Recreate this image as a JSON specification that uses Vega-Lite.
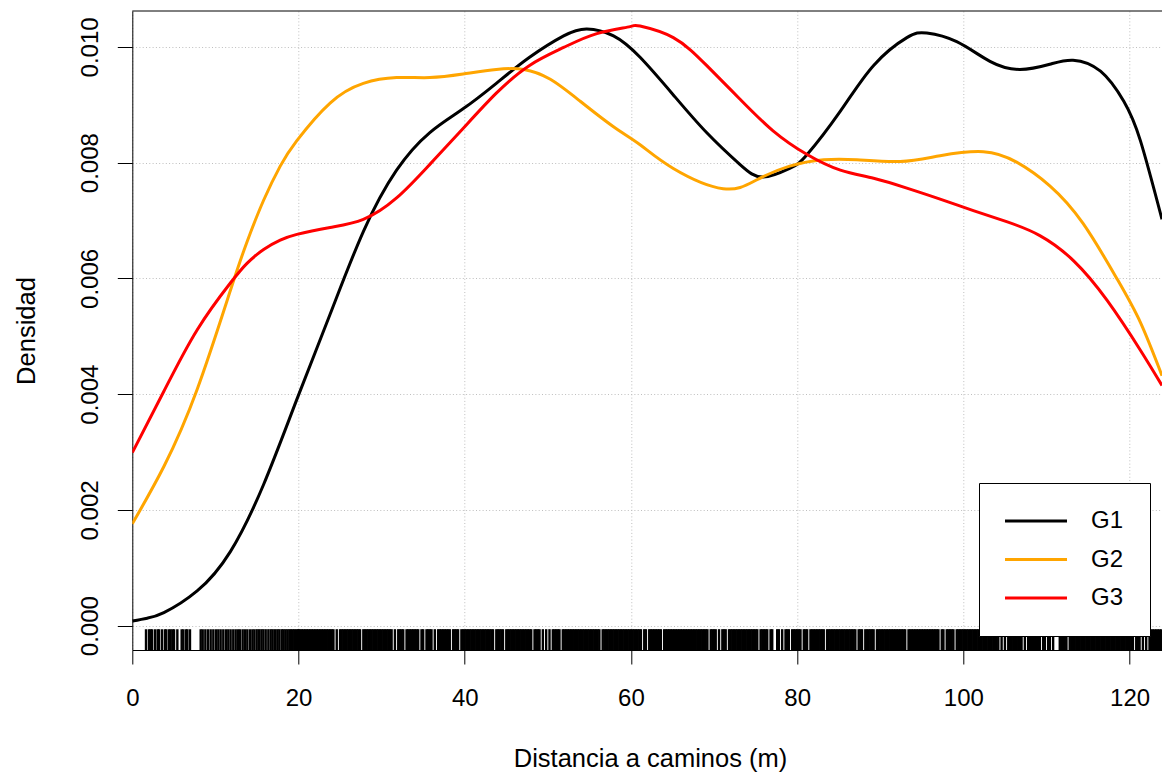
{
  "$schema": "https://vega.github.io/schema/vega-lite/v6.json",
  "width": 1029.7,
  "height": 639,
  "autosize": {"type": "none"},
  "padding": {"left": 132.3, "top": 11, "right": 0, "bottom": 122},
  "background": "white",
  "datasets": {
    "rug": [1.65, 2.01, 2.21, 2.37, 2.73, 3.05, 3.21, 3.57, 3.93, 4.09, 4.42, 4.62, 4.86, 5.02, 5.42, 5.94, 6.14, 6.46, 6.62, 6.94, 8.23, 8.47, 8.79, 9.11, 9.43, 9.75, 10.07, 10.35, 10.63, 10.95, 11.27, 11.55, 11.83, 12.15, 12.44, 12.72, 12.96, 13.28, 13.56, 13.84, 14.16, 14.45, 14.69, 14.97, 15.25, 15.53, 15.77, 16.05, 16.37, 16.65, 16.89, 17.17, 17.45, 17.69, 17.97, 18.17, 18.41, 18.65, 18.89, 19.09, 19.29, 19.49, 19.69, 19.93,
      20.0, 20.2, 20.4, 20.6, 20.8, 21.0, 21.2, 21.4, 21.6, 21.8, 22.0, 22.2, 22.4, 22.6, 22.8, 23.0, 23.2, 23.4, 23.6, 23.8, 24.0, 24.2, 24.6, 25.0, 25.2, 25.4, 25.6, 25.8, 26.0, 26.2, 26.4, 26.6, 26.8, 27.0, 27.2, 27.4, 27.8, 28.0, 28.2, 28.4, 28.6, 28.8, 29.0, 29.2, 29.4, 29.6, 29.8,
      30.0, 30.2, 30.4, 30.6, 30.8, 31.0, 31.2, 31.6, 32.0, 32.2, 32.4, 32.6, 33.0, 33.2, 33.4, 33.6, 33.8, 34.0, 34.2, 34.4, 34.8, 35.0, 35.4, 35.6, 35.8, 36.0, 36.4, 36.8, 37.0, 37.2, 37.4, 37.6, 37.8, 38.0, 38.2, 38.6, 38.8, 39.0, 39.2, 39.6, 39.8,
      40.0, 40.2, 40.4, 40.6, 40.8, 41.0, 41.2, 41.4, 41.6, 41.8, 42.0, 42.2, 42.4, 42.6, 42.8, 43.0, 43.2, 43.4, 43.8, 44.0, 44.2, 44.4, 44.6, 45.0, 45.2, 45.4, 45.6, 45.8, 46.0, 46.2, 46.4, 46.6, 46.8, 47.0, 47.2, 47.4, 47.6, 47.8, 48.0, 48.4, 48.6, 48.8, 49.0, 49.4, 49.8,
      50.2, 50.6, 50.8, 51.0, 51.2, 51.4, 51.8, 52.0, 52.2, 52.4, 52.6, 52.8, 53.0, 53.2, 53.4, 53.6, 53.8, 54.0, 54.2, 54.4, 54.6, 54.8, 55.0, 55.2, 55.4, 55.6, 55.8, 56.0, 56.2, 56.6, 56.8, 57.0, 57.2, 57.4, 57.6, 57.8, 58.0, 58.2, 58.4, 58.6, 58.8, 59.0, 59.2, 59.4, 59.6, 59.8,
      60.0, 60.2, 60.4, 60.6, 60.8, 61.0, 61.2, 61.6, 61.8, 62.2, 62.4, 62.6, 62.8, 63.0, 63.2, 63.4, 63.6, 64.0, 64.2, 64.4, 64.6, 64.8, 65.0, 65.2, 65.4, 65.6, 65.8, 66.0, 66.2, 66.4, 66.6, 66.8, 67.0, 67.2, 67.4, 67.6, 67.8, 68.0, 68.2, 68.4, 68.6, 68.8, 69.0, 69.2, 69.6, 69.8,
      70.0, 70.2, 70.6, 71.0, 71.2, 71.4, 71.8, 72.0, 72.2, 72.4, 72.6, 72.8, 73.0, 73.2, 73.4, 73.6, 73.8, 74.0, 74.2, 74.4, 74.6, 74.8, 75.0, 75.2, 75.6, 75.8, 76.0, 76.2, 76.4, 76.8, 77.0, 77.6, 77.8, 78.2, 78.6, 78.8, 79.0, 79.4, 79.6, 79.8,
      80.0, 80.2, 80.4, 80.8, 81.0, 81.2, 81.6, 81.8, 82.0, 82.2, 82.4, 82.6, 82.8, 83.0, 83.2, 83.6, 83.8, 84.0, 84.2, 84.4, 84.6, 84.8, 85.0, 85.2, 85.4, 85.6, 85.8, 86.0, 86.2, 86.4, 86.6, 86.8, 87.0, 87.4, 87.6, 87.8, 88.2, 88.4, 88.6, 88.8, 89.0, 89.2, 89.6, 89.8,
      90.0, 90.2, 90.4, 90.6, 90.8, 91.0, 91.2, 91.4, 91.6, 91.8, 92.0, 92.2, 92.4, 92.6, 92.8, 93.0, 93.4, 93.6, 93.8, 94.0, 94.2, 94.4, 94.6, 94.8, 95.0, 95.2, 95.4, 95.6, 95.8, 96.0, 96.2, 96.4, 96.6, 96.8, 97.0, 97.4, 97.6, 98.0, 98.2, 98.4, 98.6, 98.8, 99.2, 99.4, 99.6, 99.8,
      100.0, 100.2, 100.4, 100.6, 100.8, 101.0, 101.2, 101.4, 101.6, 101.8, 102.0, 102.2, 102.4, 102.6, 102.8, 103.0, 103.2, 103.4, 103.6, 103.8, 104.0, 104.2, 104.6, 105.0, 105.4, 105.6, 105.8, 106.0, 106.2, 106.4, 106.6, 106.8, 107.0, 107.4, 107.8, 108.0, 108.2, 108.4, 108.6, 108.8, 109.0, 109.2, 109.6, 109.8,
      110.2, 110.4, 110.8, 111.6, 111.8, 112.0, 112.2, 112.4, 112.8, 113.0, 113.2, 113.4, 113.6, 113.8, 114.0, 114.2, 114.4, 114.6, 114.8, 115.0, 115.2, 115.4, 115.6, 115.8, 116.0, 116.2, 116.4, 116.6, 116.8, 117.0, 117.2, 117.4, 117.6, 117.8, 118.0, 118.2, 118.4, 118.6, 118.8, 119.0, 119.2, 119.4, 119.6, 119.8,
      120.0, 120.2, 120.4, 120.8, 121.0, 121.2, 121.6, 122.0, 122.4, 122.6, 122.8, 123.0, 123.2, 123.4, 123.6, 123.8],
    "dens": [
      {"x": 0, "d": 0.00008, "g": "G1"}, {"x": 1.8, "d": 0.00013, "g": "G1"}, {"x": 3.8, "d": 0.000225, "g": "G1"}, {"x": 7.8, "d": 0.0006, "g": "G1"}, {"x": 11.8, "d": 0.00128, "g": "G1"}, {"x": 15.8, "d": 0.00244, "g": "G1"}, {"x": 19.8, "d": 0.00391, "g": "G1"}, {"x": 23.8, "d": 0.00538, "g": "G1"}, {"x": 27.8, "d": 0.00681, "g": "G1"}, {"x": 31.8, "d": 0.00787, "g": "G1"}, {"x": 35.8, "d": 0.00852, "g": "G1"}, {"x": 39.8, "d": 0.00893, "g": "G1"}, {"x": 43.8, "d": 0.00937, "g": "G1"}, {"x": 47.8, "d": 0.00982, "g": "G1"}, {"x": 51.9, "d": 0.01019, "g": "G1"}, {"x": 54.7, "d": 0.01031, "g": "G1"}, {"x": 57.9, "d": 0.01019, "g": "G1"}, {"x": 61.1, "d": 0.00982, "g": "G1"}, {"x": 65.1, "d": 0.00917, "g": "G1"}, {"x": 69.1, "d": 0.00852, "g": "G1"}, {"x": 73.1, "d": 0.00797, "g": "G1"}, {"x": 75.9, "d": 0.00775, "g": "G1"}, {"x": 79.1, "d": 0.0079, "g": "G1"}, {"x": 81.2, "d": 0.00814, "g": "G1"}, {"x": 85.2, "d": 0.00889, "g": "G1"}, {"x": 89.2, "d": 0.00968, "g": "G1"}, {"x": 93.2, "d": 0.01016, "g": "G1"}, {"x": 95.6, "d": 0.01024, "g": "G1"}, {"x": 99.2, "d": 0.01009, "g": "G1"}, {"x": 103.2, "d": 0.00975, "g": "G1"}, {"x": 106.8, "d": 0.00961, "g": "G1"}, {"x": 110.4, "d": 0.0097, "g": "G1"}, {"x": 113.2, "d": 0.00977, "g": "G1"}, {"x": 116.5, "d": 0.00958, "g": "G1"}, {"x": 119.3, "d": 0.00906, "g": "G1"}, {"x": 121.3, "d": 0.00838, "g": "G1"}, {"x": 123.9, "d": 0.00702, "g": "G1"},
      {"x": 0, "d": 0.00176, "g": "G2"}, {"x": 3.8, "d": 0.00275, "g": "G2"}, {"x": 7.8, "d": 0.00408, "g": "G2"}, {"x": 11.8, "d": 0.00579, "g": "G2"}, {"x": 13.8, "d": 0.00663, "g": "G2"}, {"x": 15.8, "d": 0.00735, "g": "G2"}, {"x": 17.8, "d": 0.00794, "g": "G2"}, {"x": 19.8, "d": 0.00838, "g": "G2"}, {"x": 23.8, "d": 0.00903, "g": "G2"}, {"x": 27.8, "d": 0.00937, "g": "G2"}, {"x": 31.8, "d": 0.00947, "g": "G2"}, {"x": 35.8, "d": 0.00947, "g": "G2"}, {"x": 39.8, "d": 0.00953, "g": "G2"}, {"x": 43.8, "d": 0.00961, "g": "G2"}, {"x": 47.1, "d": 0.00961, "g": "G2"}, {"x": 50.3, "d": 0.00944, "g": "G2"}, {"x": 53.9, "d": 0.00906, "g": "G2"}, {"x": 57.9, "d": 0.00862, "g": "G2"}, {"x": 61.1, "d": 0.00831, "g": "G2"}, {"x": 65.1, "d": 0.0079, "g": "G2"}, {"x": 71.1, "d": 0.00755, "g": "G2"}, {"x": 75.1, "d": 0.0077, "g": "G2"}, {"x": 79.1, "d": 0.00794, "g": "G2"}, {"x": 83.2, "d": 0.00805, "g": "G2"}, {"x": 87.2, "d": 0.00805, "g": "G2"}, {"x": 92.4, "d": 0.00802, "g": "G2"}, {"x": 97.2, "d": 0.00812, "g": "G2"}, {"x": 102.4, "d": 0.00819, "g": "G2"}, {"x": 106.4, "d": 0.00801, "g": "G2"}, {"x": 110.4, "d": 0.0076, "g": "G2"}, {"x": 114.4, "d": 0.00695, "g": "G2"}, {"x": 118.5, "d": 0.00599, "g": "G2"}, {"x": 121.3, "d": 0.00524, "g": "G2"}, {"x": 123.9, "d": 0.00432, "g": "G2"},
      {"x": 0, "d": 0.00299, "g": "G3"}, {"x": 3.8, "d": 0.00405, "g": "G3"}, {"x": 7.8, "d": 0.00511, "g": "G3"}, {"x": 11.8, "d": 0.00592, "g": "G3"}, {"x": 13.8, "d": 0.00626, "g": "G3"}, {"x": 15.8, "d": 0.0065, "g": "G3"}, {"x": 17.8, "d": 0.00666, "g": "G3"}, {"x": 19.8, "d": 0.00676, "g": "G3"}, {"x": 23.8, "d": 0.00688, "g": "G3"}, {"x": 27.8, "d": 0.00702, "g": "G3"}, {"x": 31.8, "d": 0.00739, "g": "G3"}, {"x": 35.8, "d": 0.00797, "g": "G3"}, {"x": 39.8, "d": 0.00859, "g": "G3"}, {"x": 43.8, "d": 0.0092, "g": "G3"}, {"x": 47.8, "d": 0.00968, "g": "G3"}, {"x": 51.9, "d": 0.00999, "g": "G3"}, {"x": 55.9, "d": 0.01023, "g": "G3"}, {"x": 59.9, "d": 0.01035, "g": "G3"}, {"x": 61.1, "d": 0.01036, "g": "G3"}, {"x": 65.1, "d": 0.01016, "g": "G3"}, {"x": 69.1, "d": 0.00968, "g": "G3"}, {"x": 73.1, "d": 0.0091, "g": "G3"}, {"x": 77.1, "d": 0.00855, "g": "G3"}, {"x": 81.2, "d": 0.00814, "g": "G3"}, {"x": 85.2, "d": 0.00787, "g": "G3"}, {"x": 89.2, "d": 0.00773, "g": "G3"}, {"x": 93.2, "d": 0.00756, "g": "G3"}, {"x": 97.2, "d": 0.00737, "g": "G3"}, {"x": 101.2, "d": 0.00717, "g": "G3"}, {"x": 105.2, "d": 0.00698, "g": "G3"}, {"x": 109.2, "d": 0.00674, "g": "G3"}, {"x": 113.3, "d": 0.0063, "g": "G3"}, {"x": 117.3, "d": 0.00562, "g": "G3"}, {"x": 121.3, "d": 0.00476, "g": "G3"}, {"x": 123.9, "d": 0.00415, "g": "G3"}
    ]
  },
  "layer": [
    {
      "data": {"name": "rug"},
      "mark": {"type": "rule", "color": "black", "strokeWidth": 2.4, "clip": true},
      "encoding": {
        "x": {"field": "data", "type": "quantitative", "scale": {"domain": [0, 123.9], "nice": false, "zero": false}},
        "y": {"datum": -0.00042, "type": "quantitative"},
        "y2": {"datum": -0.00006}
      }
    },
    {
      "data": {"name": "dens"},
      "mark": {"type": "line", "strokeWidth": 3, "interpolate": "natural", "clip": true},
      "encoding": {
        "x": {
          "field": "x", "type": "quantitative",
          "scale": {"domain": [0, 123.9], "nice": false, "zero": false},
          "axis": {
            "values": [0, 20, 40, 60, 80, 100, 120],
            "title": "Distancia a caminos (m)",
            "tickSize": 14, "labelPadding": 41, "labelBaseline": "alphabetic",
            "labelFlush": false, "labelOverlap": false,
            "titleX": 517.7, "titleY": 116, "titleAlign": "center", "titleBaseline": "alphabetic"
          }
        },
        "y": {
          "field": "d", "type": "quantitative",
          "scale": {"domain": [-0.00042, 0.01062], "nice": false, "zero": false},
          "axis": {
            "values": [0, 0.002, 0.004, 0.006, 0.008, 0.01],
            "format": ".3f",
            "title": "Densidad",
            "tickSize": 15, "labelPadding": 20, "labelAngle": -90,
            "labelAlign": "center", "labelBaseline": "alphabetic",
            "labelOverlap": false, "labelFlush": false,
            "titleAngle": -90, "titleX": -97.5, "titleY": 319.5,
            "titleAlign": "center", "titleBaseline": "alphabetic"
          }
        },
        "color": {
          "field": "g", "type": "nominal",
          "scale": {"domain": ["G1", "G2", "G3"], "range": ["#000000", "#FFA500", "#FF0000"]},
          "legend": {
            "title": null, "orient": "none", "legendX": 846.7, "legendY": 472,
            "fillColor": "white", "strokeColor": "black",
            "padding": 26, "rowPadding": 14.5,
            "symbolType": "M-3,0L3,0", "symbolSize": 427, "symbolStrokeWidth": 3,
            "symbolOffset": 19, "labelOffset": 43,
            "labelFontSize": 24, "labelFont": "Liberation Sans", "labelColor": "black"
          }
        }
      }
    },
    {
      "data": {"values": [{}]},
      "mark": {"type": "rule", "color": "black", "strokeWidth": 1},
      "encoding": {"y": {"datum": 0.01062, "type": "quantitative"}}
    }
  ],
  "config": {
    "font": "Liberation Sans",
    "view": {"stroke": null},
    "axis": {
      "grid": true, "gridColor": "#bebebe", "gridDash": [1, 2.3], "gridWidth": 1,
      "domain": true, "domainColor": "black", "domainWidth": 1,
      "tickColor": "black", "tickWidth": 1,
      "labelFont": "Liberation Sans", "labelFontSize": 24, "labelColor": "black",
      "titleFont": "Liberation Sans", "titleFontSize": 25.5, "titleFontWeight": "normal", "titleColor": "black"
    }
  }
}
